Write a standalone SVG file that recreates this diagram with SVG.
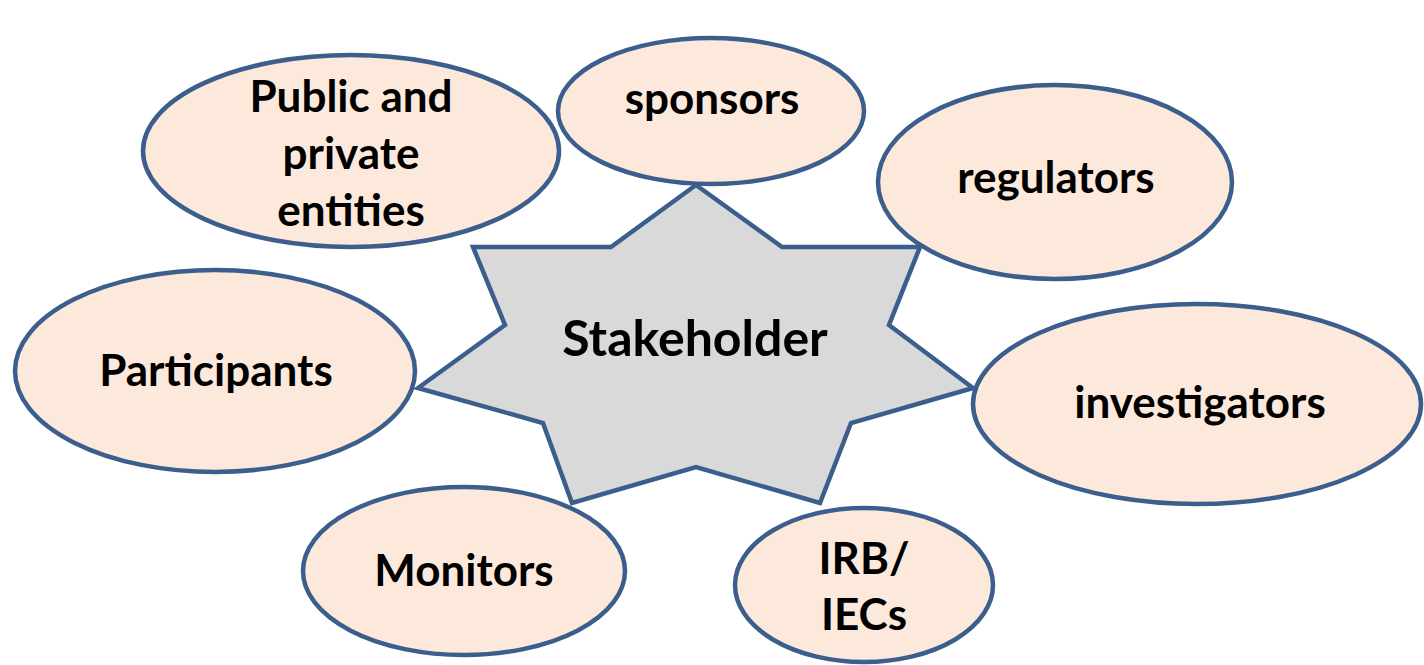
<svg xmlns="http://www.w3.org/2000/svg" width="1424" height="665" viewBox="0 0 1424 665">
<style>
.node ellipse{fill:#FCE9DB;stroke:#3B5E8C;stroke-width:4.5}
.star{fill:#D9D9D9;stroke:#3B5E8C;stroke-width:4.5;stroke-linejoin:miter}
text{font-family:Lato,"Liberation Sans",sans-serif;font-weight:bold;font-size:44px;fill:#000;text-anchor:middle}
</style>
<rect width="1424" height="665" fill="#fff"/>
<g id="sponsors" class="node"><ellipse cx="711" cy="111" rx="153" ry="73"/><text x="712" y="114">sponsors</text></g>
<g id="public" class="node"><ellipse cx="351" cy="151" rx="208" ry="96"/><text x="351" y="112">Public and</text><text x="351" y="169">private</text><text x="351" y="226">entities</text></g>
<g id="regulators" class="node"><ellipse cx="1055" cy="182" rx="177" ry="97"/><text x="1056" y="193">regulators</text></g>
<g id="participants" class="node"><ellipse cx="215" cy="371" rx="200" ry="101"/><text x="216" y="386">Participants</text></g>
<g id="investigators" class="node"><ellipse cx="1197" cy="404" rx="224" ry="100"/><text x="1200" y="418">investigators</text></g>
<g id="monitors" class="node"><ellipse cx="464" cy="571" rx="161" ry="84"/><text x="464" y="586">Monitors</text></g>
<g id="irb" class="node"><ellipse cx="864" cy="585" rx="129" ry="77"/><text x="864" y="574">IRB/</text><text x="864" y="630">IECs</text></g>
<g id="stakeholder"><polygon class="star" points="696,185 782,247 920,247 889,325 973,388 851,423 820,503 696,467 572,503 543,423 418,388 505,325 473,247 611,247"/><text x="695" y="356" style="font-size:50px">Stakeholder</text></g>
<g id="connectors"></g>
</svg>
